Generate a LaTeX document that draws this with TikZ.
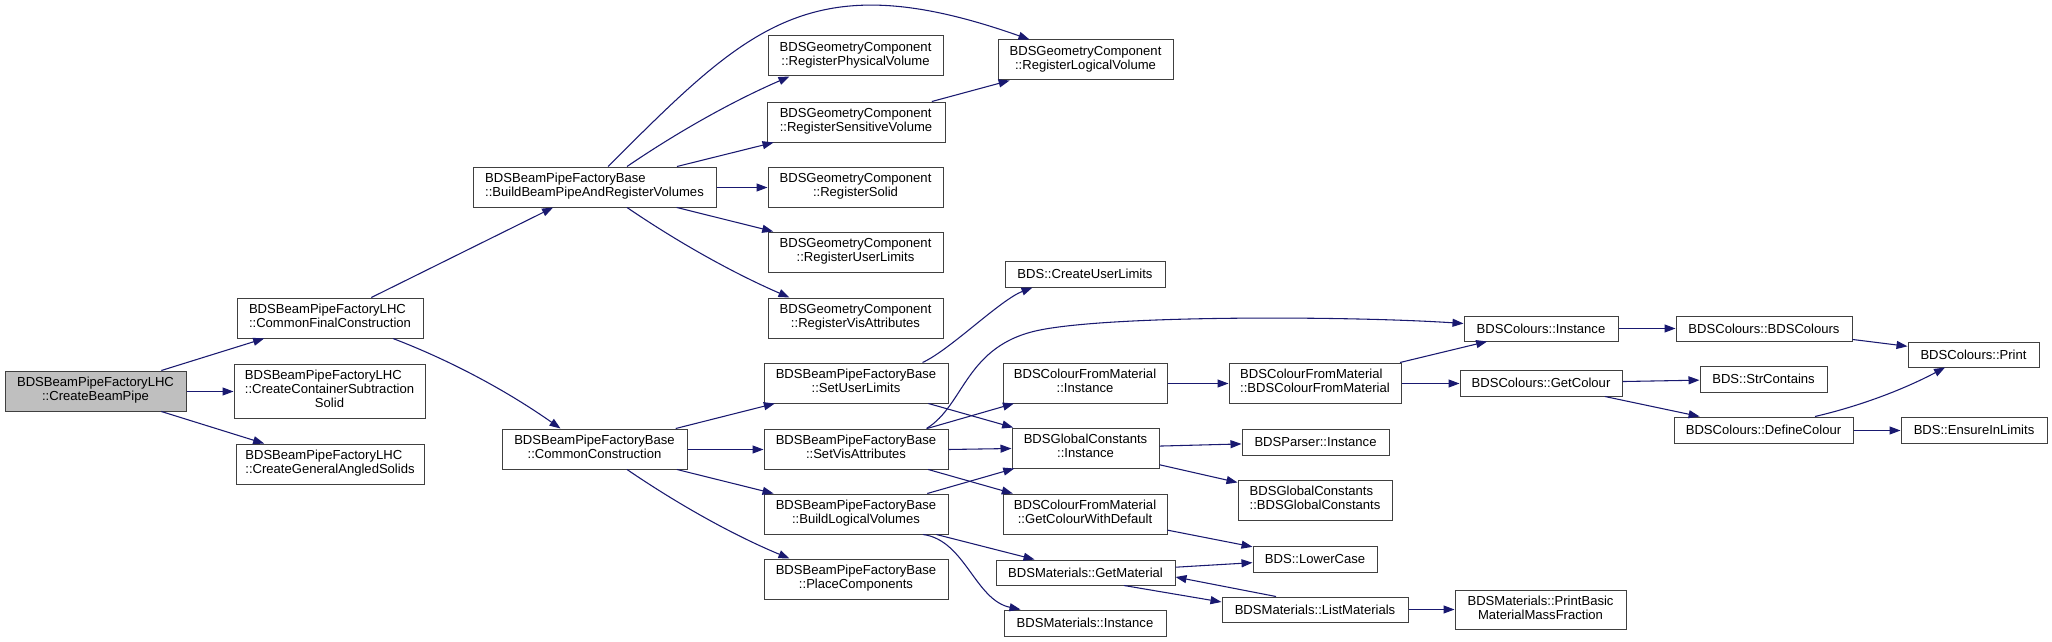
\documentclass[tikz,border=0pt]{standalone}
\usepackage{fontspec}
\setmainfont{Liberation Sans}
\usetikzlibrary{arrows.meta,calc}
\definecolor{edgec}{HTML}{191970}
\definecolor{boxc}{HTML}{404040}
\definecolor{rootc}{HTML}{BFBFBF}
\newcommand\twoln[2]{\begin{tabular}{@{}l@{}}#1\\\multicolumn{1}{@{}c@{}}{#2}\end{tabular}}
\newcommand\threeln[3]{\begin{tabular}{@{}l@{}}#1\\#2\\\multicolumn{1}{@{}c@{}}{#3}\end{tabular}}
\newcommand\bx[7][]{\node[nodebox,#1,minimum width={(#5-#3)*0.75pt},minimum height={(#6-#4)*0.75pt}] (#2) at ({(#3+#5)/2},{(#4+#6)/2}) {#7};}
\tikzset{
  nodebox/.style={draw=boxc, line width=0.75pt, fill=white, inner sep=0pt, font=\fontsize{9.8}{10.5}\selectfont},
  edge/.style={draw=edgec, line width=0.8pt, -{Triangle[length=8.25pt,width=6pt]}, edgec}
}
\begin{document}
\begin{tikzpicture}[x=0.75pt,y=-0.75pt]
\path[use as bounding box, fill=white] (0,0) rectangle (2052,642);
% nodes
\bx[fill=rootc]{cbp}{5}{371}{186}{411}{\twoln{BDSBeamPipeFactoryLHC}{::CreateBeamPipe}}
\bx{cfc}{237}{298}{423}{338}{\twoln{BDSBeamPipeFactoryLHC}{::CommonFinalConstruction}}
\bx{ccs}{234}{364}{425}{418}{\threeln{BDSBeamPipeFactoryLHC}{::CreateContainerSubtraction}{Solid}}
\bx{cga}{236}{444}{424}{484}{\twoln{BDSBeamPipeFactoryLHC}{::CreateGeneralAngledSolids}}
\bx{bbp}{473}{167}{716}{207}{\twoln{BDSBeamPipeFactoryBase}{::BuildBeamPipeAndRegisterVolumes}}
\bx{rpv}{768}{36}{943}{76}{\twoln{BDSGeometryComponent}{::RegisterPhysicalVolume}}
\bx{rlv}{998}{40}{1173}{80}{\twoln{BDSGeometryComponent}{::RegisterLogicalVolume}}
\bx{rsv}{767}{102}{945}{142}{\twoln{BDSGeometryComponent}{::RegisterSensitiveVolume}}
\bx{rso}{768}{167}{943}{207}{\twoln{BDSGeometryComponent}{::RegisterSolid}}
\bx{rul}{768}{232}{943}{272}{\twoln{BDSGeometryComponent}{::RegisterUserLimits}}
\bx{rva}{768}{298}{943}{338}{\twoln{BDSGeometryComponent}{::RegisterVisAttributes}}
\bx{cc}{502}{429}{687}{469}{\twoln{BDSBeamPipeFactoryBase}{::CommonConstruction}}
\bx{sul}{764}{363}{948}{403}{\twoln{BDSBeamPipeFactoryBase}{::SetUserLimits}}
\bx{sva}{764}{429}{948}{469}{\twoln{BDSBeamPipeFactoryBase}{::SetVisAttributes}}
\bx{blv}{764}{494}{948}{534}{\twoln{BDSBeamPipeFactoryBase}{::BuildLogicalVolumes}}
\bx{pc}{764}{559}{948}{599}{\twoln{BDSBeamPipeFactoryBase}{::PlaceComponents}}
\bx{cul}{1005}{261}{1165}{287}{BDS::CreateUserLimits}
\bx{cfmi}{1003}{363}{1167}{403}{\twoln{BDSColourFromMaterial}{::Instance}}
\bx{gci}{1012}{428}{1159}{468}{\twoln{BDSGlobalConstants}{::Instance}}
\bx{cfmd}{1003}{494}{1167}{534}{\twoln{BDSColourFromMaterial}{::GetColourWithDefault}}
\bx{gm}{996}{560}{1175}{585}{BDSMaterials::GetMaterial}
\bx{mi}{1004}{610}{1166}{636}{BDSMaterials::Instance}
\bx{cfmc}{1229}{363}{1401}{403}{\twoln{BDSColourFromMaterial}{::BDSColourFromMaterial}}
\bx{pi}{1242}{429}{1389}{455}{BDSParser::Instance}
\bx{gcc}{1238}{480}{1392}{520}{\twoln{BDSGlobalConstants}{::BDSGlobalConstants}}
\bx{lc}{1253}{546}{1377}{572}{BDS::LowerCase}
\bx{lm}{1222}{597}{1408}{622}{BDSMaterials::ListMaterials}
\bx{pb}{1455}{590}{1626}{629}{\twoln{BDSMaterials::PrintBasic}{MaterialMassFraction}}
\bx{ci}{1464}{316}{1618}{341}{BDSColours::Instance}
\bx{gco}{1460}{370}{1622}{396}{BDSColours::GetColour}
\bx{bc}{1676}{316}{1852}{341}{BDSColours::BDSColours}
\bx{pr}{1908}{342}{2039}{367}{BDSColours::Print}
\bx{sc}{1700}{366}{1827}{392}{BDS::StrContains}
\bx{dc}{1674}{417}{1853}{443}{BDSColours::DefineColour}
\bx{eil}{1901}{417}{2047}{443}{BDS::EnsureInLimits}
\coordinate (w1) at (1040,330);
% edges
\draw[edge] (cbp) -- (cfc);
\draw[edge] ($(cbp.east)+(0,0.5)$) -- ($(ccs.west)+(0,0.5)$);
\draw[edge] (cbp) -- (cga);
\draw[edge] (cfc) -- (bbp);
\draw[edge] ($(cfc.south)+(63,0)$) .. controls (452.5,361.3) and (508.1,391.7) .. ($(cc.north)+(-34,0)$);
\draw[edge] ($(bbp.north)+(13.5,0)$) .. controls (748,27) and (810,-38) .. ($(rlv.north west)+(32,0)$);
\draw[edge] ($(bbp.north)+(32.5,0)$) .. controls (678.4,131.5) and (732.8,101.1) .. ($(rpv.south west)+(22,0)$);
\draw[edge] (bbp) -- (rsv);
\draw[edge] ($(bbp.east)+(0,0.5)$) -- ($(rso.west)+(0,0.5)$);
\draw[edge] (bbp) -- (rul);
\draw[edge] ($(bbp.south)+(32.5,0)$) .. controls (678.4,242.5) and (732.8,272.9) .. ($(rva.north west)+(22,0)$);
\draw[edge] (rsv) -- (rlv);
\draw[edge] (cc) -- (sul);
\draw[edge] ($(cc.east)+(0,0.5)$) -- ($(sva.west)+(0,0.5)$);
\draw[edge] (cc) -- (blv);
\draw[edge] ($(cc.south)+(32.5,0)$) .. controls (678.4,504.5) and (732.8,534.9) .. ($(pc.north west)+(26,0)$);
\draw[edge] ($(sul.north east)+(-26,0)$) .. controls (950,350) and (1000,300) .. ($(cul.south west)+(28,0)$);
\draw[edge] (sul) -- (gci);
\draw[edge] ($(sva.north east)+(-22,0)$) .. controls (965,405) and (965,345) .. (w1) .. controls (1115,315) and (1350,316) .. ($(ci.west)+(0,-5)$);
\draw[edge] (sva) -- (cfmi);
\draw[edge] ($(sva.east)+(0,0.5)$) -- ($(gci.west)+(0,0.5)$);
\draw[edge] (sva) -- (cfmd);
\draw[edge] (blv) -- (gci);
\draw[edge] (blv) -- (gm);
\draw[edge] ($(blv.south)+(67,0)$) .. controls (965,540) and (975,600) .. ($(mi.north west)+(17,0)$);
\draw[edge] ($(cfmi.east)+(0,0.5)$) -- ($(cfmc.west)+(0,0.5)$);
\draw[edge] (cfmc) -- (ci);
\draw[edge] ($(cfmc.east)+(0,0.5)$) -- ($(gco.west)+(0,0.5)$);
\draw[edge] (gci) -- (pi);
\draw[edge] (gci) -- (gcc);
\draw[edge] (cfmd) -- (lc);
\draw[edge] (gm) -- (lc);
\draw[edge] ($(gm.south)+(38.5,0)$) -- ($(lm.west)+(0,-7.5)$);
\draw[edge] ($(lm.north)+(-39,0)$) -- ($(gm.east)+(0,4.5)$);
\draw[edge] (lm) -- (pb);
\draw[edge] (ci) -- (bc);
\draw[edge] (bc) -- (pr);
\draw[edge] (gco) -- (sc);
\draw[edge] (gco) -- (dc);
\draw[edge] ($(dc.north)+(51.5,0)$) .. controls (1860.5,405.9) and (1903.9,389.3) .. ($(pr.south)+(-28.5,0)$);
\draw[edge] ($(dc.east)+(0,0.5)$) -- ($(eil.west)+(0,0.5)$);
\end{tikzpicture}
\end{document}
